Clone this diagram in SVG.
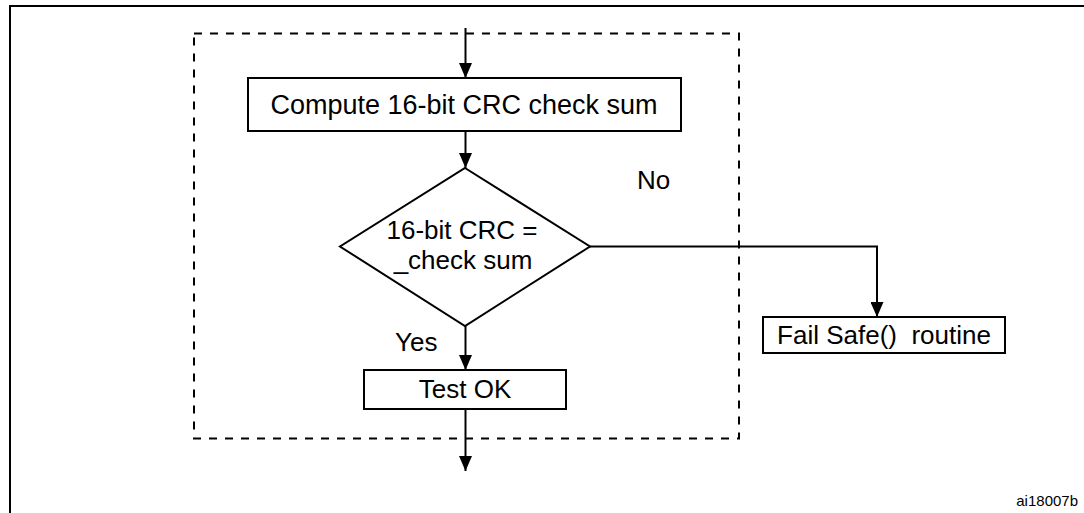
<svg xmlns="http://www.w3.org/2000/svg" width="1084" height="513" viewBox="0 0 1084 513">
  <style>
    .lbl { font-family: "Liberation Sans", Arial, sans-serif; font-size: 26px; fill: #000; }
    .box { fill: #fff; stroke: #000; stroke-width: 2; }
    .wire { fill: none; stroke: #000; stroke-width: 2; }
    .dash { fill: none; stroke: #000; stroke-width: 2; stroke-dasharray: 8 8; }
  </style>
  <defs>
    <marker id="arrow" viewBox="0 0 15 13" refX="15" refY="6.5" markerWidth="15" markerHeight="13" markerUnits="userSpaceOnUse" orient="auto">
      <path d="M0,0 L15,6.5 L0,13 Z" fill="#000"/>
    </marker>
  </defs>
  <rect width="1084" height="513" fill="#fff"/>

  <!-- outer frame -->
  <path d="M10,513 V6 H1084" fill="none" stroke="#000" stroke-width="2"/>

  <!-- dashed boundary of the check routine -->
  <rect id="routine-boundary" class="dash" x="194" y="33.5" width="545" height="405"/>

  <!-- connectors -->
  <g id="connectors">
    <line class="wire" x1="465.5" y1="28" x2="465.5" y2="78" marker-end="url(#arrow)"/>
    <line class="wire" x1="465.5" y1="131" x2="465.5" y2="168" marker-end="url(#arrow)"/>
    <polyline class="wire" points="590,246.5 877,246.5 877,317" marker-end="url(#arrow)"/>
    <line class="wire" x1="465.5" y1="326" x2="465.5" y2="370" marker-end="url(#arrow)"/>
    <line class="wire" x1="465.5" y1="409" x2="465.5" y2="471" marker-end="url(#arrow)"/>
  </g>

  <g id="compute-crc">
    <rect class="box" x="248" y="78" width="433" height="53"/>
    <text class="lbl" x="464" y="114" text-anchor="middle" style="font-size:27px">Compute 16-bit CRC check sum</text>
  </g>

  <g id="crc-decision">
    <polygon class="box" points="465,168 590,246.5 465,326 340,246.5"/>
    <text class="lbl" x="462" y="239" text-anchor="middle">16-bit CRC =</text>
    <text class="lbl" x="463" y="269" text-anchor="middle">_check sum</text>
  </g>

  <g id="label-no">
    <text class="lbl" x="637" y="189">No</text>
  </g>
  <g id="label-yes">
    <text class="lbl" x="395" y="351">Yes</text>
  </g>

  <g id="fail-safe">
    <rect class="box" x="763" y="317" width="242" height="36"/>
    <text class="lbl" x="884" y="344" text-anchor="middle" xml:space="preserve">Fail Safe()  routine</text>
  </g>

  <g id="test-ok">
    <rect class="box" x="364" y="370" width="202" height="39"/>
    <text class="lbl" x="465" y="398" text-anchor="middle">Test OK</text>
  </g>

  <text class="lbl" x="1078" y="506" text-anchor="end" style="font-size:15px">ai18007b</text>
</svg>
